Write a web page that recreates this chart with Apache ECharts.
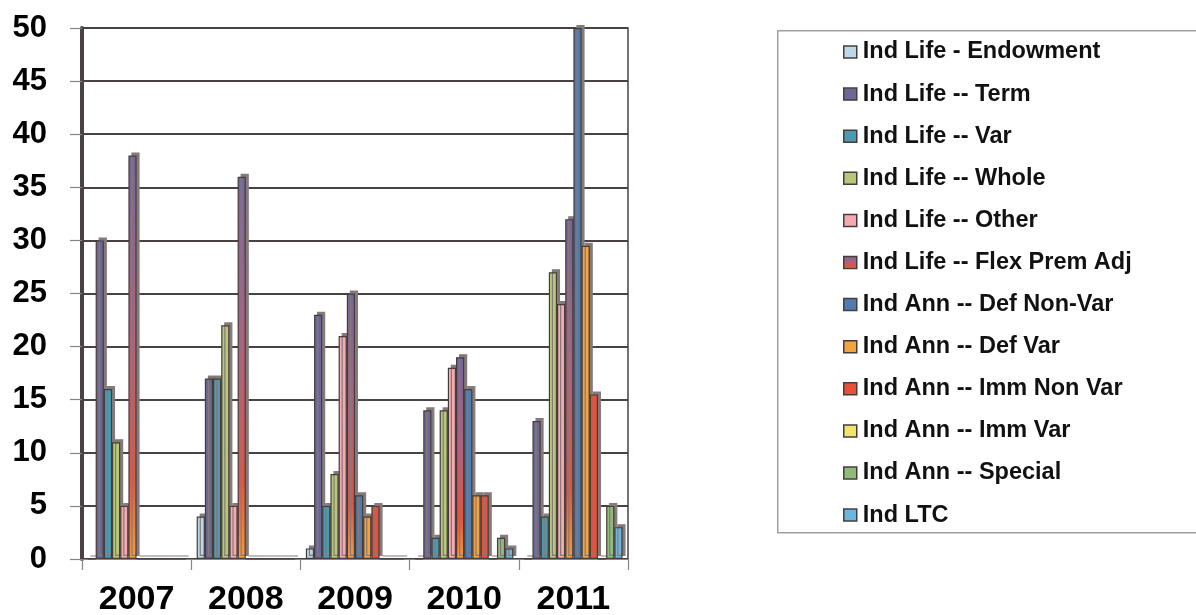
<!DOCTYPE html>
<html>
<head>
<meta charset="utf-8">
<script src="https://cdn.jsdelivr.net/npm/echarts@6/dist/echarts.min.js"></script>
<style>
  html, body { margin: 0; padding: 0; background: #ffffff; }
  #chart { width: 1196px; height: 615px; }
</style>
</head>
<body>
<div id="chart"></div>
<script>
// Years on the category axis
const years = ['2007', '2008', '2009', '2010', '2011'];

// Value axis ticks
const yMin = 0;
const yMax = 50;
const yStep = 5;

// One array per product line, one value per year
const endowment   = [0, 4, 1, 0, 0];
const term        = [30, 17, 23, 14, 13];
const lifeVar     = [16, 17, 5, 2, 4];
const whole       = [11, 22, 8, 14, 27];
const lifeOther   = [5, 5, 21, 18, 24];
const flexPremAdj = [38, 36, 25, 19, 32];
const defNonVar   = [0, 0, 6, 16, 50];
const defVar      = [0, 0, 4, 6, 29.5];
const immNonVar   = [0, 0, 5, 6, 15.5];
const immVar      = [0, 0, 0, 0, 0];
const special     = [0, 0, 0, 2, 5];
const ltc         = [0, 0, 0, 1, 3];

const seriesNames = [
  'Ind Life - Endowment',
  'Ind Life -- Term',
  'Ind Life -- Var',
  'Ind Life -- Whole',
  'Ind Life -- Other',
  'Ind Life -- Flex Prem Adj',
  'Ind Ann -- Def Non-Var',
  'Ind Ann -- Def Var',
  'Ind Ann -- Imm Non Var',
  'Ind Ann -- Imm Var',
  'Ind Ann -- Special',
  'Ind LTC'
];
const seriesValues = [endowment, term, lifeVar, whole, lifeOther, flexPremAdj,
  defNonVar, defVar, immNonVar, immVar, special, ltc];

// The flex premium bars fade from purple at the top to orange at the base
const flexGradient = new echarts.graphic.LinearGradient(0, 0, 0, 1, [
  { offset: 0, color: '#72679a' },
  { offset: 0.45, color: '#b3607e' },
  { offset: 0.8, color: '#e4543f' },
  { offset: 1, color: '#f69d3a' }
]);

const seriesColors = ['#bcd7e6', '#6c6794', '#4a9bb2', '#b7c979', '#f3aab0', flexGradient,
  '#4f7cb0', '#f4a43f', '#e8503a', '#f2e46a', '#8fbd79', '#68b7df'];

const edge = '#453c3c';

const series = seriesNames.map((name, i) => ({
  name: name,
  type: 'bar',
  data: seriesValues[i],
  barGap: '0%',
  barCategoryGap: '10%',
  itemStyle: {
    color: seriesColors[i],
    borderColor: edge,
    borderWidth: 1.2,
    // depth face drawn behind each bar
    shadowColor: '#857a7a',
    shadowBlur: 0,
    shadowOffsetX: 3,
    shadowOffsetY: -3
  },
  emphasis: { disabled: true }
}));

const chart = echarts.init(document.getElementById('chart'), null, { renderer: 'canvas' });

chart.setOption({
  animation: false,
  backgroundColor: '#ffffff',
  textStyle: { fontFamily: 'Liberation Sans, Arial, sans-serif' },
  grid: {
    left: 82,
    right: 568,
    top: 28,
    bottom: 56,
    outerBoundsMode: 'none',
    containLabel: false,
    show: true,
    borderColor: '#4a4242',
    borderWidth: 1.5,
    backgroundColor: 'transparent'
  },
  xAxis: {
    type: 'category',
    data: years,
    axisLine: { show: true, lineStyle: { color: '#8a8585', width: 1.2 } },
    axisTick: { show: true, length: 11, inside: false, lineStyle: { color: '#8a8585', width: 1.2 } },
    axisLabel: {
      fontSize: 34,
      fontWeight: 'bold',
      color: '#000000',
      margin: 24
    },
    splitLine: { show: false }
  },
  yAxis: {
    type: 'value',
    min: yMin,
    max: yMax,
    interval: yStep,
    axisLine: { show: true, lineStyle: { color: '#4a4242', width: 4 } },
    axisTick: { show: true, length: 12, lineStyle: { color: '#8a8585', width: 1.2 } },
    axisLabel: {
      fontSize: 31,
      fontWeight: 'bold',
      color: '#000000',
      margin: 35
    },
    splitLine: { show: true, lineStyle: { color: '#4a4242', width: 1.8 } }
  },
  legend: {
    orient: 'vertical',
    left: 843,
    top: 40,
    padding: 0,
    itemWidth: 13,
    itemHeight: 12,
    itemGap: 18.1,
    icon: 'rect',
    selectedMode: false,
    itemStyle: {
      borderColor: edge,
      borderWidth: 1.5,
      shadowColor: 'rgba(0,0,0,0)',
      shadowBlur: 0,
      shadowOffsetX: 0,
      shadowOffsetY: 0
    },
    textStyle: {
      fontSize: 23.5,
      lineHeight: 23.5,
      fontWeight: 'bold',
      color: '#111111',
      padding: [0, 0, 0, 1]
    },
    data: seriesNames
  },
  graphic: [
    {
      type: 'rect',
      left: 777,
      top: 30,
      shape: { width: 440, height: 502 },
      style: { fill: 'transparent', stroke: '#a39d9d', lineWidth: 1.5 },
      silent: true,
      z: -1
    }
  ],
  series: series
});
</script>
</body>
</html>
